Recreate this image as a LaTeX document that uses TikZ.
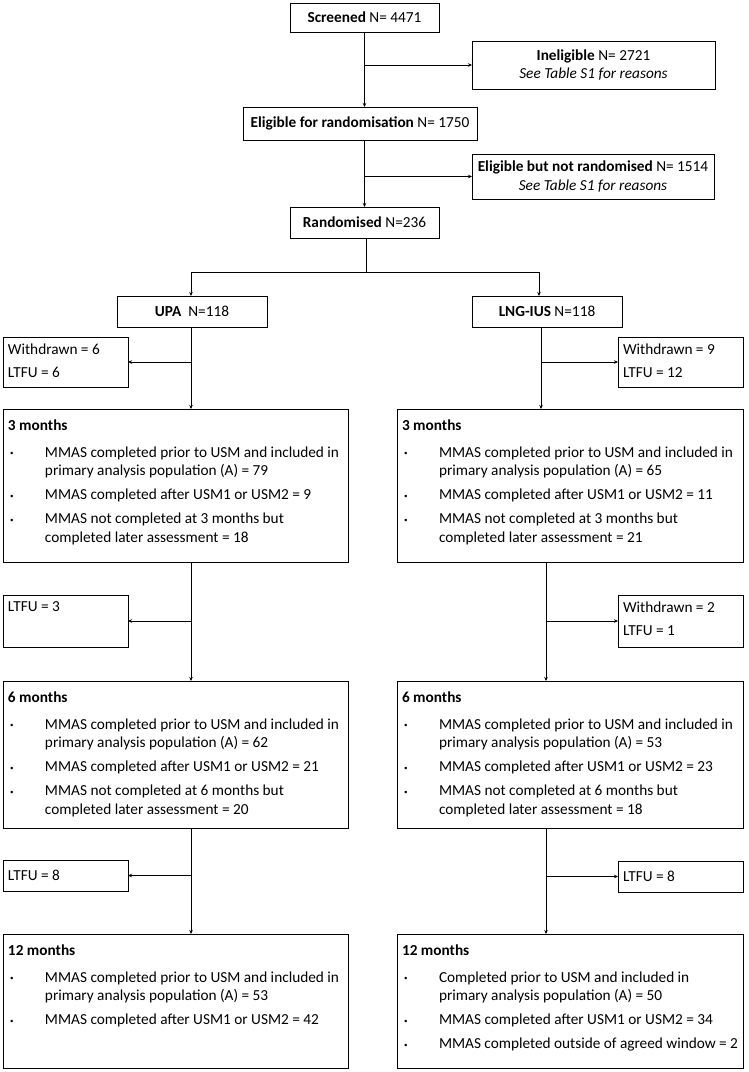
\documentclass[tikz,border=0pt]{standalone}
\usepackage{fontspec}
\setmainfont{Carlito}
\usetikzlibrary{arrows.meta}

\newcommand{\bitem}[1]{\par\vspace{5.5pt}\noindent\hangindent=37pt\hangafter=1\makebox[37pt][l]{\hspace{2pt}\raisebox{1.5pt}{\fontsize{7}{7}\selectfont\textbullet}}#1}
\newcommand{\topbox}[3]{\parbox[c][#2][t]{#1}{\raggedright\vspace*{2pt}#3}}
\newcommand{\midbox}[3]{\parbox[c][#2][c]{#1}{\centering #3}}
\newcommand{\monthbox}[4]{\parbox[c][#2][t]{#1}{\raggedright\vspace*{6pt}\textbf{#3}\vspace{2.5pt}#4}}

\tikzset{
	every node/.style={font=\fontsize{15.3}{18.5}\selectfont, inner sep=5pt, outer sep=0pt},
	box/.style={draw, line width=1pt, anchor=north west},
	link/.style={line width=1pt},
	arr/.style={line width=1pt, -{Stealth[length=4pt,width=3.5pt]}}
}

\begin{document}
\begin{tikzpicture}[x=1pt, y=-1pt]
	\useasboundingbox (0,0) rectangle (748,1072);
	% screening
	\node[box] (screened) at (290,3)   {\midbox{139pt}{19pt}{\textbf{Screened} N= 4471}};
	\node[box] (inelig)   at (472,41)  {\midbox{233pt}{38pt}{\textbf{Ineligible} N= 2721\\\textit{See Table S1 for reasons}}};
	\node[box] (eligible) at (243,107) {\midbox{224pt}{23pt}{\textbf{Eligible for randomisation} N= 1750}};
	\node[box] (notrand)  at (472,154) {\midbox{232pt}{35pt}{\textbf{Eligible but not randomised} N= 1514\\\textit{See Table S1 for reasons}}};
	\node[box] (rand)     at (290,207) {\midbox{139pt}{21pt}{\textbf{Randomised} N=236}};
	\node[box] (upa)      at (117,296) {\midbox{140pt}{21pt}{\textbf{UPA}\ \ N=118}};
	\node[box] (lng)      at (472,296) {\midbox{140pt}{21pt}{\textbf{LNG-IUS} N=118}};
	% losses
	\node[box] (wdA)  at (3,337)   {\topbox{115pt}{40pt}{Withdrawn = 6\\[4pt]LTFU = 6}};
	\node[box] (wdB)  at (618,337) {\topbox{115pt}{40pt}{Withdrawn = 9\\[4pt]LTFU = 12}};
	\node[box] (ltA3) at (3,595)   {\topbox{115pt}{42pt}{LTFU = 3}};
	\node[box] (ltB3) at (618,595) {\topbox{115pt}{42pt}{Withdrawn = 2\\[4pt]LTFU = 1}};
	\node[box] (ltA6) at (3,860)   {\parbox[c][21pt][c]{115pt}{LTFU = 8}};
	\node[box] (ltB6) at (618,861) {\parbox[c][21pt][c]{115pt}{LTFU = 8}};
	% follow-up
	\node[box] (mA3) at (3,409) {\monthbox{335pt}{143pt}{3 months}{
		\bitem{MMAS completed prior to USM and included in\newline primary analysis population (A) = 79}
		\bitem{MMAS completed after USM1 or USM2 = 9}
		\bitem{MMAS not completed at 3 months but\newline completed later assessment = 18}}};
	\node[box] (mB3) at (397,409) {\monthbox{336pt}{143pt}{3 months}{
		\bitem{MMAS completed prior to USM and included in\newline primary analysis population (A) = 65}
		\bitem{MMAS completed after USM1 or USM2 = 11}
		\bitem{MMAS not completed at 3 months but\newline completed later assessment = 21}}};
	\node[box] (mA6) at (3,681) {\monthbox{335pt}{137pt}{6 months}{
		\bitem{MMAS completed prior to USM and included in\newline primary analysis population (A) = 62}
		\bitem{MMAS completed after USM1 or USM2 = 21}
		\bitem{MMAS not completed at 6 months but\newline completed later assessment = 20}}};
	\node[box] (mB6) at (397,681) {\monthbox{336pt}{137pt}{6 months}{
		\bitem{MMAS completed prior to USM and included in\newline primary analysis population (A) = 53}
		\bitem{MMAS completed after USM1 or USM2 = 23}
		\bitem{MMAS not completed at 6 months but\newline completed later assessment = 18}}};
	\node[box] (mA12) at (3,934) {\monthbox{335pt}{124pt}{12 months}{
		\bitem{MMAS completed prior to USM and included in\newline primary analysis population (A) = 53}
		\bitem{MMAS completed after USM1 or USM2 = 42}}};
	\node[box] (mB12) at (397,934) {\monthbox{336pt}{124pt}{12 months}{
		\bitem{Completed prior to USM and included in\newline primary analysis population (A) = 50}
		\bitem{MMAS completed after USM1 or USM2 = 34}
		\bitem{MMAS completed outside of agreed window = 2}}};
	% trunk lines
	\coordinate (split) at (366,272);
	\coordinate (jA)    at (191,272);
	\coordinate (jB)    at (539,272);
	\coordinate (colA)  at (191,0);
	\coordinate (colB)  at (541,0);
	\coordinate (colC)  at (546,0);
	\draw[arr] (screened.south) -- (screened.south |- eligible.north);
	\draw[arr] (screened.south |- inelig.west) -- (inelig.west);
	\draw[arr] (screened.south |- eligible.south) -- (screened.south |- rand.north);
	\draw[arr] (screened.south |- notrand.west) -- (notrand.west);
	\draw[link] (split |- rand.south) -- (split);
	\draw[link] (jA) -- (jB);
	\draw[arr] (jA) -- (jA |- upa.north);
	\draw[arr] (jB) -- (jB |- lng.north);
	% UPA arm
	\draw[arr] (colA |- upa.south) -- (colA |- mA3.north);
	\draw[arr] (colA |- wdA.east) -- (wdA.east);
	\draw[arr] (colA |- mA3.south) -- (colA |- mA6.north);
	\draw[arr] (colA |- ltA3.east) -- (ltA3.east);
	\draw[arr] (colA |- mA6.south) -- (colA |- mA12.north);
	\draw[arr] (colA |- ltA6.east) -- (ltA6.east);
	% LNG-IUS arm
	\draw[arr] (colB |- lng.south) -- (colB |- mB3.north);
	\draw[arr] (colB |- wdB.west) -- (wdB.west);
	\draw[arr] (colC |- mB3.south) -- (colC |- mB6.north);
	\draw[arr] (colC |- ltB3.west) -- (ltB3.west);
	\draw[arr] (colC |- mB6.south) -- (colC |- mB12.north);
	\draw[arr] (colC |- ltB6.west) -- (ltB6.west);
\end{tikzpicture}
\end{document}
